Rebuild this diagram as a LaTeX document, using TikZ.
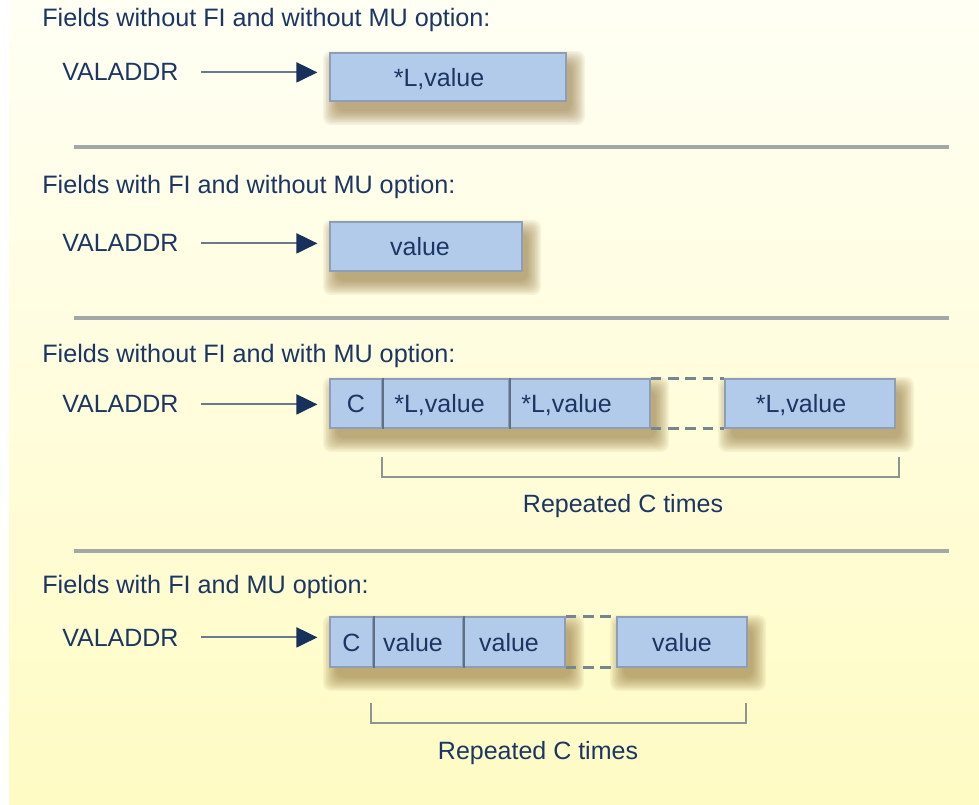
\documentclass[tikz,border=0pt]{standalone}
\usepackage{fontspec}
\setmainfont{Liberation Sans}
\usetikzlibrary{arrows.meta}
\definecolor{txt}{HTML}{1C3664}
\definecolor{cellfill}{HTML}{B3CBEA}
\definecolor{cellborder}{HTML}{8E9EB6}
\definecolor{divc}{HTML}{5F7084}
\definecolor{sepc}{HTML}{A3A7A8}
\definecolor{brk}{HTML}{8C9494}
\definecolor{dashc}{HTML}{76868E}
\definecolor{arrline}{HTML}{6A7A8C}
\definecolor{arrhead}{HTML}{17305C}
\definecolor{shadowc}{HTML}{8A6A30}
\definecolor{bgtop}{HTML}{FFFFF4}
\definecolor{bgbot}{HTML}{FFFBC4}
\newcommand\dropshade[4]{%
  \foreach \k in {0,...,9}{%
    \pgfmathsetmacro\rr{13-1.5*\k}%
    \fill[shadowc, opacity=0.075, rounded corners=6pt] ({#1+6-\rr},{#2+11-\rr}) rectangle ({#3+6+\rr},{#4+11+\rr});}}
\newcommand\cellnode[6]{%
  \node[cellbox, minimum width={(#4-#2)*0.75pt}, minimum height={(#5-#3)*0.75pt}] (#1) at ({(#2+#4)/2},{(#3+#5)/2}) {#6};}
\begin{document}
\begin{tikzpicture}[x=0.75pt,y=-0.75pt,
  every node/.style={font=\fontsize{18.75pt}{22pt}\selectfont, text=txt, inner sep=0pt},
  heading/.style={anchor=base west, font=\fontsize{18.9pt}{22pt}\selectfont},
  vname/.style={anchor=base west},
  cellbox/.style={fill=cellfill, draw=cellborder, line width=0.9pt, text height=14pt, text depth=0pt},
  divider/.style={draw=divc, line width=1.6pt},
  gapline/.style={draw=dashc, line width=2.4pt, dash pattern=on 8pt off 5pt},
  rule/.style={draw=sepc, line width=3.2pt},
  brace/.style={draw=brk, line width=2.2pt},
  ptr/.style={draw=arrline, line width=1.5pt, shorten <=16.5pt, shorten >=9pt, -{Triangle[length=15.75pt,width=15pt,color=arrhead]}},
  note/.style={anchor=base},
]
\fill[white] (0,0) rectangle (979,805);
\shade[top color=bgtop, bottom color=bgbot] (9,0) rectangle (979,804);
\useasboundingbox (0,0) rectangle (979,805);

% ---- row 1
\node[heading] (t1) at (42,27) {Fields without FI and without MU option:};
\node[vname] (v1) at (62,81) {VALADDR};
\dropshade{330}{53}{566}{101}
\cellnode{b1}{330}{53}{566}{101}{\kern-13.5pt*L,value}
\draw[ptr] (v1.east) -- (v1.east -| b1.west);
\draw[rule] (74,147) -- (949,147);

% ---- row 2
\node[heading] (t2) at (42,194) {Fields with FI and without MU option:};
\node[vname] (v2) at (62,252) {VALADDR};
\dropshade{330}{222}{522}{271}
\cellnode{b2}{330}{222}{522}{271}{\kern-9pt value}
\draw[ptr] (v2.east) -- (v2.east -| b2.west);
\draw[rule] (74,318) -- (949,318);

% ---- row 3
\node[heading] (t3) at (42,363) {Fields without FI and with MU option:};
\node[vname] (v3) at (62,413) {VALADDR};
\dropshade{330}{379}{650}{428}
\dropshade{725}{379}{895}{428}
\cellnode{c3a}{330}{379}{382}{428}{C}
\cellnode{c3b}{382}{379}{509}{428}{\kern-9pt*L,value}
\cellnode{c3c}{509}{379}{650}{428}{\kern-19.5pt*L,value}
\cellnode{c3d}{725}{379}{895}{428}{\kern-13.5pt*L,value}
\draw[divider] (c3a.north east) -- (c3a.south east);
\draw[divider] (c3b.north east) -- (c3b.south east);
\draw[gapline] (c3c.north east) -- (c3d.north west);
\draw[gapline] (c3c.south east) -- (c3d.south west);
\draw[ptr] (v3.east) -- (v3.east -| c3a.west);
\coordinate (k3l) at (382,457);
\coordinate (k3r) at (899,457);
\draw[brace] (k3l) -- (382,477) -- (899,477) -- (k3r);
\node[note] (n3) at (623,513) {Repeated C times};
\draw[rule] (74,551) -- (949,551);

% ---- row 4
\node[heading] (t4) at (42,594) {Fields with FI and MU option:};
\node[vname] (v4) at (62,646) {VALADDR};
\dropshade{330}{617}{565}{667}
\dropshade{617}{617}{747}{667}
\cellnode{c4a}{330}{617}{373}{667}{C}
\cellnode{c4b}{373}{617}{463}{667}{\kern-7.5pt value}
\cellnode{c4c}{463}{617}{565}{667}{\kern-7.5pt value}
\cellnode{c4d}{617}{617}{747}{667}{value}
\draw[divider] (c4a.north east) -- (c4a.south east);
\draw[divider] (c4b.north east) -- (c4b.south east);
\draw[gapline] (c4c.north east) -- (c4d.north west);
\draw[gapline] (c4c.south east) -- (c4d.south west);
\draw[ptr] (v4.east) -- (v4.east -| c4a.west);
\coordinate (k4l) at (371,703);
\coordinate (k4r) at (746,703);
\draw[brace] (k4l) -- (371,723) -- (746,723) -- (k4r);
\node[note] (n4) at (538,759) {Repeated C times};
\end{tikzpicture}
\end{document}
